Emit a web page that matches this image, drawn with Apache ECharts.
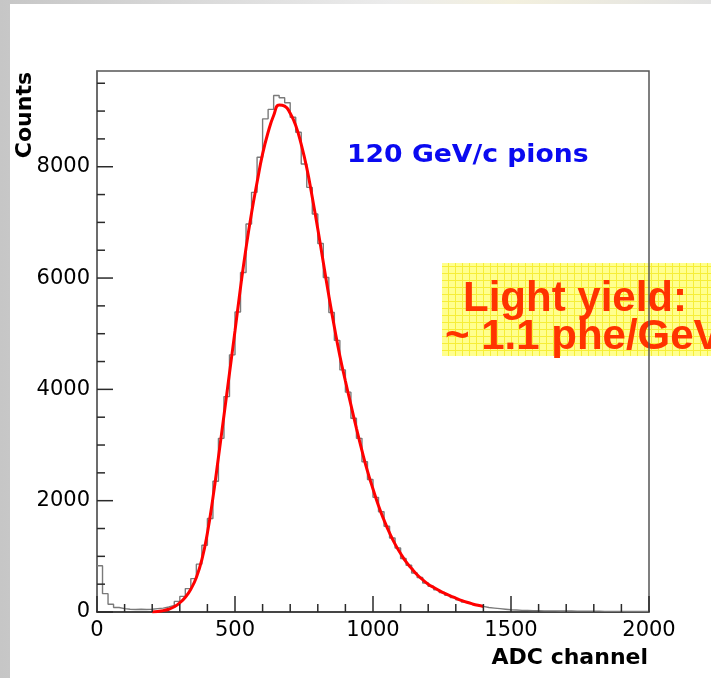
<!DOCTYPE html>
<html>
<head>
<meta charset="utf-8">
<script src="https://cdn.jsdelivr.net/npm/echarts@6/dist/echarts.min.js"></script>
<style>
  html, body { margin: 0; padding: 0; width: 711px; height: 678px; overflow: hidden; }
  body { background: linear-gradient(to right, #c6c6c6, #d8d8d8 25%, #ececec 55%, #f3f0de 72%, #e2e2e2); }
  #panel { position: absolute; left: 10px; top: 4px; right: 0; bottom: 0; background: #fff; }
  #chart { position: absolute; left: 0; top: 0; width: 711px; height: 678px; }
</style>
</head>
<body>
<div id="panel"></div>
<div id="chart"></div>
<script>
// histogram: 100 bins of 20 ADC channels, 0..2000
const binWidth = 20;
const counts = [
  830, 330, 140, 80, 60, 50, 45, 50, 45, 50,
  60, 70, 90, 120, 190, 280, 420, 600, 860, 1200,
  1680, 2350, 3120, 3870, 4620, 5390, 6100, 6970, 7540, 8170,
  8860, 9030, 9280, 9240, 9150, 8890, 8620, 8050, 7630, 7150,
  6620, 6010, 5380, 4880, 4350, 3950, 3480, 3120, 2700, 2380,
  2060, 1800, 1540, 1330, 1150, 960, 840, 700, 620, 520,
  460, 400, 350, 300, 260, 220, 180, 150, 120, 100,
  80, 70, 60, 50, 40, 35, 30, 30, 25, 25,
  20, 20, 20, 18, 18, 18, 15, 15, 15, 15,
  15, 12, 12, 12, 12, 10, 10, 10, 10, 10
];

// fitted curve (red)
const fitAdc = [
  200, 220, 240, 260, 280, 300, 320, 340, 360, 380,
  400, 420, 440, 460, 480, 500, 520, 540, 560, 580,
  600, 620, 640, 660, 680, 700, 720, 740, 760, 780,
  800, 820, 840, 860, 880, 900, 920, 940, 960, 980,
  1000, 1020, 1040, 1060, 1080, 1100, 1120, 1140, 1160, 1180,
  1200, 1220, 1240, 1260, 1280, 1300, 1320, 1340, 1360, 1380, 1400
];
const fitCounts = [
  0, 10, 25, 50, 95, 165, 265, 410, 620, 940,
  1420, 2050, 2780, 3530, 4290, 5050, 5830, 6540, 7170, 7720,
  8230, 8620, 8920, 9110, 9090, 8960, 8740, 8400, 7980, 7450,
  6880, 6280, 5680, 5120, 4600, 4150, 3720, 3300, 2900, 2530,
  2210, 1910, 1650, 1420, 1220, 1050, 900, 780, 670, 580,
  500, 440, 385, 335, 290, 250, 210, 175, 145, 120, 100
];

// axis ranges and tick marks (ROOT style: ticks inside the frame)
const xMax = 2000, xStep = 500;
const yMax = 9720, yStep = 2000;
const xMajorTicks = [0, 500, 1000, 1500, 2000];
const xMinorTicks = [100, 200, 300, 400, 600, 700, 800, 900, 1100, 1200, 1300, 1400, 1600, 1700, 1800, 1900];
const yMajorTicks = [0, 2000, 4000, 6000, 8000];
const yMinorTicks = [500, 1000, 1500, 2500, 3000, 3500, 4500, 5000, 5500, 6500, 7000, 7500, 8500, 9000, 9500];

const histData = counts.map((c, i) => [i * binWidth, c]);
histData.push([counts.length * binWidth, counts[counts.length - 1]]);
const fitData = fitAdc.map((x, i) => [x, fitCounts[i]]);

// yellow grid paper for the note box
const pat = document.createElement('canvas');
pat.width = 7; pat.height = 7;
const pctx = pat.getContext('2d');
pctx.fillStyle = '#ffff8e';
pctx.fillRect(0, 0, 7, 7);
pctx.fillStyle = '#f6ee38';
pctx.fillRect(0, 0, 7, 1);
pctx.fillRect(0, 0, 1, 7);

const chart = echarts.init(document.getElementById('chart'));
const tickFont = { color: '#000', fontFamily: 'DejaVu Sans', fontSize: 21, formatter: v => String(v) };

// custom series drawing tick marks through the axis scales
function tickSeries(values, isX, len) {
  return {
    type: 'custom', silent: true, clip: false, z: 4,
    data: values.map(v => isX ? [v, 0] : [0, v]),
    renderItem: (params, api) => {
      const p = api.coord([api.value(0), api.value(1)]);
      return {
        type: 'line',
        shape: isX ? { x1: p[0], y1: p[1], x2: p[0], y2: p[1] - len }
                   : { x1: p[0], y1: p[1], x2: p[0] + len, y2: p[1] },
        style: { stroke: '#2a2a2a', lineWidth: 1.5 }
      };
    }
  };
}

chart.setOption({
  animation: false,
  backgroundColor: 'transparent',
  grid: {
    left: 97, right: 62, top: 71, bottom: 66,
    show: true, borderColor: '#555', borderWidth: 1.5, backgroundColor: 'transparent',
    containLabel: false
  },
  xAxis: {
    type: 'value', min: 0, max: xMax, interval: xStep,
    axisLine: { show: true, lineStyle: { color: '#333', width: 1.5 } },
    axisTick: { show: false },
    axisLabel: Object.assign({ margin: 8 }, tickFont),
    splitLine: { show: false }
  },
  yAxis: {
    type: 'value', min: 0, max: yMax, interval: yStep,
    axisLine: { show: true, lineStyle: { color: '#666', width: 1.5 } },
    axisTick: { show: false },
    axisLabel: Object.assign({ margin: 7, showMaxLabel: false }, tickFont),
    splitLine: { show: false }
  },
  series: [
    {
      type: 'line', step: 'end', data: histData, symbol: 'none',
      lineStyle: { color: '#7a7a7a', width: 1.4 }, z: 2
    },
    {
      type: 'line', smooth: true, data: fitData, symbol: 'none',
      lineStyle: { color: '#ff0000', width: 3 }, z: 3
    },
    tickSeries(xMajorTicks, true, 16),
    tickSeries(xMinorTicks, true, 8),
    tickSeries(yMajorTicks, false, 16),
    tickSeries(yMinorTicks, false, 8)
  ],
  graphic: [
    { type: 'text', x: 25, y: 72, rotation: Math.PI / 2, z: 5,
      style: { text: 'Counts', fill: '#000', font: 'bold 22px "DejaVu Sans"', align: 'right', verticalAlign: 'middle' } },
    { type: 'text', x: 648, y: 658, z: 5,
      style: { text: 'ADC channel', fill: '#000', font: 'bold 22px "DejaVu Sans"', align: 'right', verticalAlign: 'middle' } },
    { type: 'text', x: 347, y: 156, z: 5, scaleX: 1.11,
      style: { text: '120 GeV/c pions', fill: '#0a0af0', font: 'bold 24px "DejaVu Sans"', align: 'left', verticalAlign: 'middle' } },
    { type: 'rect', z: -5, shape: { x: 442, y: 263, width: 280, height: 93 },
      style: { fill: { image: pat, repeat: 'repeat' } } },
    { type: 'text', x: 463, y: 299, z: -4,
      style: { text: 'Light yield:', fill: '#ff3300', font: 'bold 42px "Liberation Sans"', align: 'left', verticalAlign: 'middle' } },
    { type: 'text', x: 445, y: 337, z: -4,
      style: { text: '~ 1.1 phe/GeV', fill: '#ff3300', font: 'bold 42px "Liberation Sans"', align: 'left', verticalAlign: 'middle' } }
  ]
});
</script>
</body>
</html>
